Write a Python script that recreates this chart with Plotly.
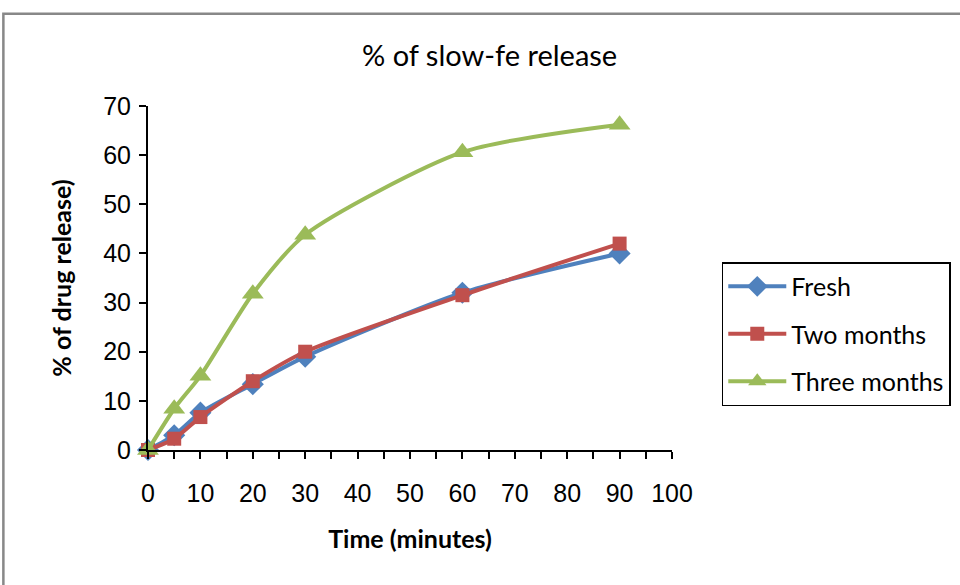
import plotly.graph_objects as go

time_min = [0, 5, 10, 20, 30, 60, 90]
fresh = [0, 3.0, 7.6, 13.4, 19.0, 32.0, 40.0]
two_months = [0, 2.3, 6.7, 14.0, 20.0, 31.5, 42.0]
three_months = [0, 8.4, 15.1, 31.8, 43.8, 60.6, 66.2]

series = [
    ("Fresh", fresh, "#4F81BD", "diamond", 17),
    ("Two months", two_months, "#C0504D", "square", 14),
    ("Three months", three_months, "#9BBB59", "triangle-up", 19),
]

fig = go.Figure()
for i, (name, ys, col, sym, sz) in enumerate(series):
    fig.add_trace(go.Scatter(
        x=time_min, y=ys, name=name, mode="lines+markers",
        line=dict(color=col, width=4, shape="spline", smoothing=0.7),
        marker=dict(symbol=sym, size=sz, color=col),
        cliponaxis=False, legendgroup=f"g{i}",
    ))

fig.update_layout(
    width=960, height=585,
    paper_bgcolor="white", plot_bgcolor="white",
    margin=dict(l=148, r=288, t=106, b=135, autoexpand=False),
    title=dict(text="% of slow-fe release", x=0.51, xanchor="center",
               y=0.905, yanchor="middle",
               font=dict(family="Lato, Carlito, sans-serif", size=29, color="black")),
    showlegend=True,
    legend=dict(x=1.095, y=0.337, xanchor="left", yanchor="middle",
                bordercolor="black", borderwidth=1.5, bgcolor="white",
                font=dict(family="Lato, sans-serif", size=25, color="black"),
                itemwidth=58, tracegroupgap=12),
    xaxis=dict(range=[0, 100], dtick=10, showgrid=False, zeroline=False,
               showline=True, linecolor="black", linewidth=2, automargin=False,
               ticks="outside", ticklen=7, tickcolor="black", tickwidth=1.5,
               ticklabelstandoff=13,
               minor=dict(dtick=5, ticks="outside", ticklen=7, tickcolor="black", tickwidth=1.5),
               tickfont=dict(family="Liberation Sans, Arial, sans-serif", size=25, color="black"),
               title=dict(text="<b>Time (minutes)</b>", standoff=24,
                          font=dict(family="Lato, sans-serif", size=25, color="black"))),
    yaxis=dict(range=[0, 70], dtick=10, showgrid=False, zeroline=False,
               showline=True, linecolor="black", linewidth=2, automargin=False,
               ticks="outside", ticklen=7, tickcolor="black", tickwidth=1.5,
               ticklabelstandoff=3,
               tickfont=dict(family="Liberation Sans, Arial, sans-serif", size=25, color="black"),
               title=dict(text="<b>% of drug release)</b>", standoff=24,
                          font=dict(family="Lato, sans-serif", size=25, color="black"))),
    shapes=[dict(type="rect", xref="paper", yref="paper",
                 x0=-0.276, x1=1.56, y0=-0.42, y1=1.268,
                 line=dict(color="#888888", width=2.5), layer="below")],
)

fig.write_html("out.html")
